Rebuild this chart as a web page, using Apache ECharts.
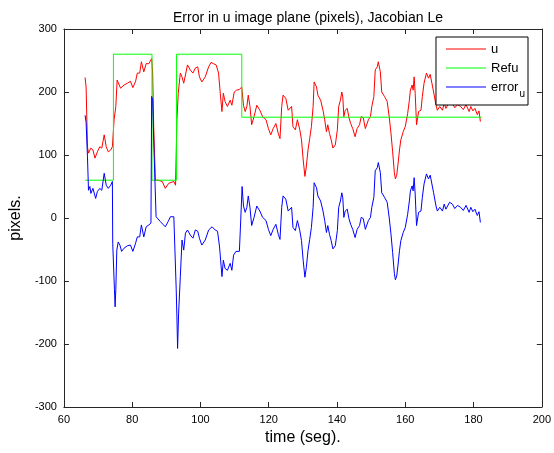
<!DOCTYPE html>
<html>
<head>
<meta charset="utf-8">
<script src="https://cdn.jsdelivr.net/npm/echarts@6/dist/echarts.min.js"></script>
<style>
  html, body { margin: 0; padding: 0; background: #fff; }
  #chart { width: 554px; height: 453px; }
</style>
</head>
<body>
<div id="chart"></div>
<script>
// Measured image-plane position u (pixels) over time (s)
const tU = [66.2,66.5,66.9,67.2,67.9,68.5,69.1,69.8,70.5,71.1,71.8,72.4,73.0,73.7,74.2,74.7,75.2,75.6,76.1,76.6,77.6,78.6,79.5,80.2,81.0,81.5,82.2,82.7,83.4,84.1,84.9,85.7,86.0,86.3,86.8,87.6,88.8,89.7,90.7,92.2,92.7,93.1,93.5,94.1,94.6,95.1,95.6,96.2,97.0,97.8,98.5,99.2,99.7,100.4,101.4,102.4,103.1,103.8,104.6,105.3,105.8,106.3,106.7,107.2,107.9,108.7,109.2,109.9,110.6,111.4,112.1,112.6,113.1,113.6,114.0,114.5,115.0,115.7,116.5,117.4,118.2,119.2,119.9,120.6,121.3,122.1,122.8,123.3,123.8,124.2,125.0,125.7,126.2,126.7,127.1,127.8,128.4,129.1,129.6,130.1,130.6,131.0,131.5,132.0,132.5,133.0,133.3,134.0,134.4,135.2,135.9,136.4,136.9,137.3,137.8,138.3,138.8,139.5,140.1,140.5,141.0,141.4,141.7,142.0,142.4,143.0,143.5,144.0,144.6,145.3,145.9,146.6,147.1,147.7,148.3,149.2,149.8,150.2,150.8,151.2,151.8,152.1,152.7,153.1,153.9,154.7,155.3,155.8,156.3,156.8,157.1,157.5,157.9,158.3,158.7,159.4,160.0,160.7,161.2,161.5,162.0,162.3,162.6,162.9,163.3,163.9,164.6,165.0,165.5,166.2,166.8,167.3,167.8,168.3,169.0,169.4,170.1,170.9,171.4,171.9,172.3,173.0,173.8,174.5,175.3,176.2,177.0,177.8,178.7,179.2,179.8,180.4,181.1,181.6,182.0];
const uVal = [223,208,113,103,111,108,95,105,113,111,132,113,105,108,113,156,177,219,217,206,211,214,217,207,217,230,230,248,232,245,245,253,230,145,60,60,58,47,55,58,52,156,198,230,224,214,227,243,235,230,238,240,224,216,224,240,247,245,243,230,198,169,198,185,177,187,179,200,203,204,208,179,169,177,195,177,148,161,179,171,161,156,142,132,142,150,134,126,177,195,190,171,171,177,145,140,156,140,124,92,66,81,108,126,145,177,216,208,195,187,171,156,137,148,134,124,111,116,140,177,187,200,192,161,171,174,159,150,142,129,142,148,161,159,142,156,161,177,193,235,240,248,232,200,193,185,160,135,105,72,62,68,87,108,124,137,145,166,187,203,211,203,224,198,148,169,171,193,214,230,222,228,214,200,179,171,177,171,182,174,171,185,182,175,180,177,172,180,169,177,170,174,164,170,153];

// Reference trajectory Refu (pixels)
const tRef = [66.2,74.5,74.5,85.8,85.8,93.0,93.0,112.1,112.1,182.4];
const refVal = [60,60,260,260,60,60,260,260,160,160];

// Tracking error error_u (pixels)
const tErr = [66.2,66.5,66.9,67.2,67.6,67.9,68.5,69.3,69.8,70.5,71.1,71.8,72.4,73.0,73.7,74.2,74.3,74.8,75.0,75.2,75.5,75.9,76.4,76.9,77.6,78.6,79.5,80.2,81.0,81.5,82.2,82.7,83.4,84.1,84.9,85.5,85.7,86.0,86.3,86.6,87.0,87.5,88.3,89.0,89.7,90.5,91.2,92.2,92.7,92.9,93.1,93.3,93.6,94.1,94.6,95.1,95.6,96.2,97.0,97.8,98.5,99.2,99.7,100.4,101.4,102.4,103.4,104.3,105.0,105.6,106.3,106.7,107.2,107.9,108.7,109.2,109.7,110.4,111.4,111.8,112.2,112.6,113.1,113.6,114.0,114.5,115.0,115.7,116.5,117.4,118.2,119.2,119.9,120.6,121.3,122.1,122.8,123.3,123.8,124.2,125.0,125.7,126.2,126.7,127.1,127.8,128.4,129.1,129.6,130.1,130.6,131.0,131.5,132.0,132.5,133.0,133.3,134.0,134.4,135.2,135.9,136.4,136.9,137.3,137.8,138.3,138.8,139.5,140.1,140.5,141.0,141.4,141.7,142.0,142.4,143.0,143.5,144.0,144.6,145.3,145.9,146.6,147.1,147.7,148.3,149.2,149.8,150.2,150.8,151.2,151.8,152.1,152.7,153.1,153.9,154.7,155.3,155.8,156.3,156.8,157.1,157.5,157.9,158.3,158.7,159.4,160.0,160.7,161.2,161.5,162.0,162.3,162.6,162.9,163.3,163.9,164.6,165.0,165.5,166.2,166.8,167.3,167.8,168.3,169.0,169.4,170.1,170.9,171.4,171.9,172.3,173.0,173.8,174.5,175.3,176.2,177.0,177.8,178.7,179.2,179.8,180.4,181.1,181.6,182.0];
const errVal = [163,152,97,44,50,39,47,31,42,47,44,71,52,47,52,58,-40,-114,-141,-114,-51,-38,-43,-53,-48,-44,-43,-53,-40,-30,-30,-11,-30,-14,-11,-8,193,187,124,71,2,-1,-6,-10,-14,-6,2,2,-1,-114,-157,-207,-151,-93,-35,-51,-24,-19,-27,-32,-19,-21,-32,-43,-35,-19,-14,-19,-21,-46,-93,-67,-80,-83,-72,-83,-59,-53,-53,-3,50,19,9,17,35,17,-12,1,19,11,1,-4,-18,-28,-18,-10,-26,-34,17,35,30,11,11,17,-15,-20,-4,-20,-36,-68,-94,-79,-52,-34,-15,17,56,48,35,27,11,-4,-23,-12,-26,-36,-49,-44,-20,17,27,40,32,1,11,14,-1,-10,-18,-31,-18,-12,1,-1,-18,-4,1,17,33,75,80,88,72,40,33,25,0,-25,-55,-88,-98,-92,-73,-52,-36,-23,-15,6,27,43,51,43,64,38,-12,9,11,33,54,70,62,68,54,40,19,11,17,11,22,14,11,25,22,15,20,17,12,20,9,17,10,14,4,10,-7];

// Axis ticks
const xTicks = [60, 80, 100, 120, 140, 160, 180, 200];
const yTicks = [-300, -200, -100, 0, 100, 200, 300];

const zip = (ts, vs) => ts.map((t, i) => [t, vs[i]]);

const FONT = '"Liberation Sans", Arial, Helvetica, sans-serif';
const AXIS_COLOR = '#262626';

const chart = echarts.init(document.getElementById('chart'), null, { renderer: 'canvas' });

// Frame axis on the top/right: ticks only, no labels
const boxAxis = (extra) => Object.assign({
  type: 'value',
  axisLine: { show: true, onZero: false, lineStyle: { color: AXIS_COLOR, width: 1 } },
  axisTick: { show: true, inside: true, length: 5, lineStyle: { color: AXIS_COLOR } },
  splitLine: { show: false },
  axisLabel: { show: false }
}, extra);

chart.setOption({
  animation: false,
  backgroundColor: '#fff',
  title: {
    text: 'Error in u image plane (pixels), Jacobian Le',
    left: 303,
    textAlign: 'center',
    top: 6,
    textStyle: { fontFamily: FONT, fontSize: 14, fontWeight: 'normal', color: '#000' }
  },
  grid: { left: 63, right: 11, top: 29, bottom: 46 },
  legend: {
    orient: 'vertical',
    right: 26,
    top: 37,
    backgroundColor: '#fff',
    borderColor: '#000',
    borderWidth: 1,
    borderRadius: 0,
    padding: [4, 3, 6, 10],
    icon: 'rect',
    itemWidth: 40,
    itemHeight: 1,
    itemGap: 3,
    textStyle: {
      fontFamily: FONT, fontSize: 13, color: '#000', lineHeight: 16,
      rich: {
        b: { fontFamily: FONT, fontSize: 13, color: '#000', lineHeight: 16 },
        s: { fontFamily: FONT, fontSize: 10, color: '#000', padding: [14, 0, 0, 1] }
      }
    },
    formatter: (name) => name === 'error_u' ? '{b|error}{s|u}' : name,
    data: ['u', 'Refu', 'error_u']
  },
  xAxis: [
    {
      type: 'value', min: 60, max: 200, interval: 20,
      position: 'bottom',
      name: 'time (seg).',
      nameLocation: 'middle',
      nameGap: 22,
      nameTextStyle: { fontFamily: FONT, fontSize: 16, color: '#000' },
      axisLine: { show: true, onZero: false, lineStyle: { color: AXIS_COLOR, width: 1 } },
      axisTick: { show: true, inside: true, length: 5, lineStyle: { color: AXIS_COLOR } },
      axisLabel: { fontFamily: FONT, fontSize: 11, color: '#000', margin: 7,
        formatter: (v) => xTicks.includes(v) ? String(v) : '' },
      splitLine: { show: false }
    },
    boxAxis({ min: 60, max: 200, interval: 20, position: 'top' })
  ],
  yAxis: [
    {
      type: 'value', min: -300, max: 300, interval: 100,
      position: 'left',
      name: 'pixels.',
      nameLocation: 'middle',
      nameGap: 36,
      nameRotate: 90,
      nameTextStyle: { fontFamily: FONT, fontSize: 16, color: '#000' },
      axisLine: { show: true, onZero: false, lineStyle: { color: AXIS_COLOR, width: 1 } },
      axisTick: { show: true, inside: true, length: 5, lineStyle: { color: AXIS_COLOR } },
      axisLabel: { fontFamily: FONT, fontSize: 11, color: '#000', margin: 7,
        formatter: (v) => yTicks.includes(v) ? String(v) : '' },
      splitLine: { show: false }
    },
    boxAxis({ min: -300, max: 300, interval: 100, position: 'right' })
  ],
  series: [
    {
      name: 'u', type: 'line', data: zip(tU, uVal),
      symbol: 'none', color: '#ff0000',
      lineStyle: { color: '#ff0000', width: 1 }, z: 2
    },
    {
      name: 'Refu', type: 'line', data: zip(tRef, refVal),
      symbol: 'none', color: '#00ff00',
      lineStyle: { color: '#00ff00', width: 1 }, z: 3
    },
    {
      name: 'error_u', type: 'line', data: zip(tErr, errVal),
      symbol: 'none', color: '#0000ff',
      lineStyle: { color: '#0000ff', width: 1 }, z: 4
    }
  ]
});
</script>
</body>
</html>
